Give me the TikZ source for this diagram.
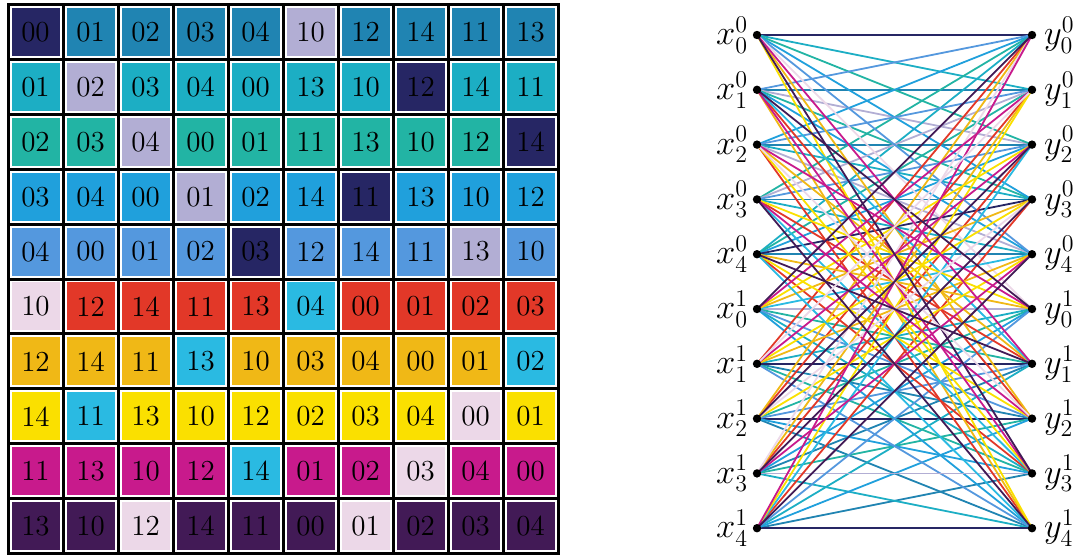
\documentclass[tikz,border=0pt]{standalone}
\usepackage{amsmath,amssymb}
\usepackage{tikz}
\usetikzlibrary{positioning}

\definecolor{nv}{RGB}{38,38,100}
\definecolor{lv}{RGB}{178,174,212}
\definecolor{sb}{RGB}{32,132,178}
\definecolor{cy}{RGB}{28,174,196}
\definecolor{tl}{RGB}{34,180,164}
\definecolor{sk}{RGB}{32,160,220}
\definecolor{cf}{RGB}{84,152,222}
\definecolor{rd}{RGB}{226,56,40}
\definecolor{pk}{RGB}{236,216,232}
\definecolor{bc}{RGB}{42,186,226}
\definecolor{gd}{RGB}{240,184,22}
\definecolor{ye}{RGB}{250,224,0}
\definecolor{mg}{RGB}{200,26,140}
\definecolor{pu}{RGB}{66,26,86}

\pgfdeclarelayer{bg}
\pgfsetlayers{bg,main}

\begin{document}
\begin{tikzpicture}[x=0.5pt,y=-0.5pt,
  cell/.style={minimum size=24pt,inner sep=0pt,font=\fontsize{14.5}{14.5}\selectfont},
  gridline/.style={line width=1.5pt,line cap=rect},
  dot/.style={circle,fill,inner sep=0pt,minimum size=4.2pt},
  lbl/.style={inner sep=0.5pt,font=\fontsize{16.5}{18}\selectfont},
  edge/.style={line width=0.9pt}]
\useasboundingbox (0,0) rectangle (1081,554);

% bipartite graph
\foreach \a in {0,1} \foreach \b in {0,...,4} {
  \pgfmathsetmacro\yy{35+(5*\a+\b)*54.8}
  \node[dot] (x\a\b) at (757,\yy) {};
  \node[dot] (y\a\b) at (1032,\yy) {};
  \node[lbl,left=1.5pt of x\a\b] (lx\a\b) {$x^{\a}_{\b}$};
  \node[lbl,right=3pt of y\a\b] (ly\a\b) {$y^{\a}_{\b}$};
}

% table
\foreach \i in {0,...,10} {
  \draw[gridline] (8+\i*55,4.5) -- (8+\i*55,553.5);
  \draw[gridline] (8,4.5+\i*54.9) -- (558,4.5+\i*54.9);
}
\foreach \row [count=\r from 0] in {
  {00/nv,01/sb,02/sb,03/sb,04/sb,10/lv,12/sb,14/sb,11/sb,13/sb},
  {01/cy,02/lv,03/cy,04/cy,00/cy,13/cy,10/cy,12/nv,14/cy,11/cy},
  {02/tl,03/tl,04/lv,00/tl,01/tl,11/tl,13/tl,10/tl,12/tl,14/nv},
  {03/sk,04/sk,00/sk,01/lv,02/sk,14/sk,11/nv,13/sk,10/sk,12/sk},
  {04/cf,00/cf,01/cf,02/cf,03/nv,12/cf,14/cf,11/cf,13/lv,10/cf},
  {10/pk,12/rd,14/rd,11/rd,13/rd,04/bc,00/rd,01/rd,02/rd,03/rd},
  {12/gd,14/gd,11/gd,13/bc,10/gd,03/gd,04/gd,00/gd,01/gd,02/bc},
  {14/ye,11/bc,13/ye,10/ye,12/ye,02/ye,03/ye,04/ye,00/pk,01/ye},
  {11/mg,13/mg,10/mg,12/mg,14/bc,01/mg,02/mg,03/pk,04/mg,00/mg},
  {13/pu,10/pu,12/pk,14/pu,11/pu,00/pu,01/pk,02/pu,03/pu,04/pu}} {
  \foreach \v/\cl [count=\c from 0] in \row {
    \pgfmathtruncatemacro\xa{\c/5}
    \pgfmathtruncatemacro\xb{mod(\c,5)}
    \node[cell,fill=\cl] (c\r\c) at (35.5+\c*55,31.95+\r*54.9) {\v};
    \begin{pgfonlayer}{bg}
      \draw[edge,\cl] (x\xa\xb.center) -- (y\v.center);
    \end{pgfonlayer}
  }
}
\end{tikzpicture}
\end{document}
